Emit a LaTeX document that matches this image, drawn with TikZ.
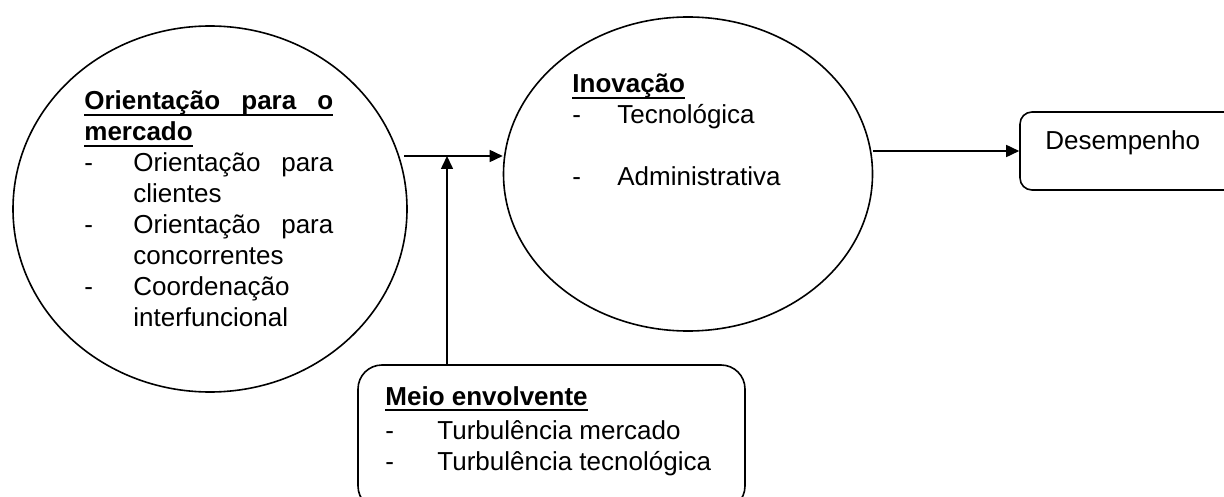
\documentclass[tikz,border=0pt]{standalone}
\usepackage{fontspec}
\setmainfont{Liberation Sans}
\usetikzlibrary{arrows.meta, shapes.geometric, positioning}
\tolerance=10000
\hyphenpenalty=10000

\tikzset{
  bubble/.style={ellipse, draw, line width=0.8pt, inner sep=0pt},
  panel/.style={rectangle, draw, line width=0.8pt, inner sep=0pt},
  txt/.style={anchor=base west, inner sep=0pt, font=\fontsize{13}{15.5}\selectfont},
  flow/.style={-{Triangle[length=6.5pt,width=6pt]}, line width=0.8pt}
}
\newcommand{\dashitem}[2]{\par\hangindent=#1\hangafter=1\noindent\makebox[#1][l]{-}#2\par}
\newcommand{\uhead}[1]{\setbox0\hbox{\textbf{#1}}\leavevmode\rlap{\rule[-3pt]{\wd0}{1pt}}\box0}

\begin{document}
\begin{tikzpicture}[x=0.5pt, y=-0.5pt]
  \useasboundingbox (0,0) rectangle (1224,497);
  % shapes
  \node[bubble, minimum width=197pt, minimum height=183pt] (orient) at (210,209) {};
  \node[bubble, minimum width=184.5pt, minimum height=157pt] (inov) at (688,174) {};
  \node[panel, rounded corners=6pt, minimum width=108pt, minimum height=39pt] (desemp) at (1128,151) {};
  \node[panel, rounded corners=12pt, minimum width=193.5pt, minimum height=72.5pt] (meio) at (551.5,437.5) {};

  % texts
  \node[txt, text width=124.5pt, align=justify] (orienttxt) at (84,110) {%
    \noindent\uhead{\makebox[124.5pt][s]{Orientação para o}}\par
    \noindent\uhead{mercado}
    \dashitem{24.5pt}{Orientação para clientes}
    \dashitem{24.5pt}{Orientação para concorrentes}
    \dashitem{24.5pt}{Coordenação interfuncional}};
  \node[txt, text width=150pt, align=justify] (inovtxt) at (572,93) {%
    \noindent\uhead{Inovação}
    \dashitem{22.5pt}{Tecnológica}
    \vskip15.5pt
    \dashitem{22.5pt}{Administrativa}};
  \node[txt] (desemptxt) at (1045,150) {Desempenho};
  \node[txt, text width=170pt, align=justify] (meiotxt) at (385,405) {%
    \noindent\uhead{Meio envolvente}\par\vskip1.5pt
    \dashitem{26pt}{Turbulência mercado}
    \dashitem{26pt}{Turbulência tecnológica}};

  % connectors
  \coordinate (jstart) at (404,156);
  \coordinate (jup) at (447,156);
  \draw[flow] (jstart) -- (jstart -| inov.west);
  \draw[flow] (jup |- meio.north) -- (jup);
  \draw[flow] (desemp.west -| inov.east) -- (desemp.west);
\end{tikzpicture}
\end{document}
